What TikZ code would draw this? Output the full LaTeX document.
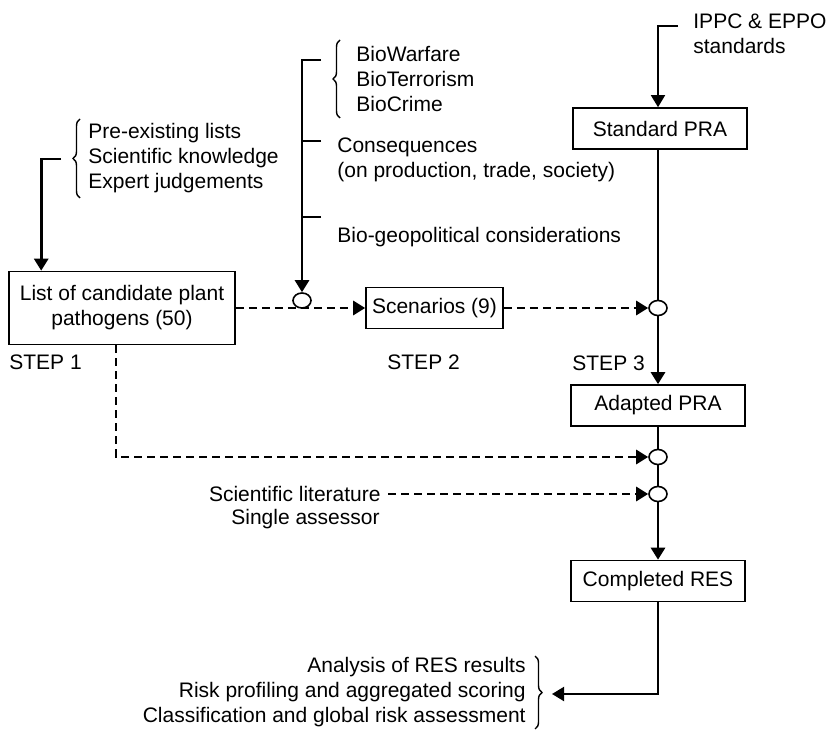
\documentclass[tikz,border=0pt]{standalone}
\usepackage{fontspec}
\setmainfont{Liberation Sans}
\usetikzlibrary{arrows.meta,positioning,decorations.pathreplacing,shapes.geometric}

\begin{document}
\begin{tikzpicture}[x=0.5pt,y=-0.5pt,
  every node/.style={font=\fontsize{10.5}{12.5}\selectfont},
  prabox/.style={draw,line width=0.8pt,minimum width=87pt,minimum height=20.5pt,inner sep=2pt},
  junc/.style={draw,ellipse,line width=0.8pt,fill=white,minimum width=9pt,minimum height=7.5pt,inner sep=0pt},
  solidarr/.style={line width=1.4pt,-{Triangle[length=6pt,width=7pt]}},
  dasharr/.style={line width=1.4pt,dash pattern=on 4pt off 2.5pt,-{Triangle[length=6pt,width=7pt]}},
  lbrace/.style={decorate,decoration={brace,amplitude=3.5pt},line width=0.7pt},
  txt/.style={inner sep=1pt,align=left}]
  \useasboundingbox (0,0) rectangle (829,731);
  % boxes and junctions
  \node[prabox,minimum width=113pt,minimum height=36.5pt,align=center] (list) at (122,308) {List of candidate plant\\pathogens (50)};
  \node[prabox,minimum width=68.5pt] (scen) at (434.5,308) {Scenarios (9)};
  \node[prabox] (std) at (660,128.5) {Standard PRA};
  \node[prabox] (adapt) at (658,405.5) {Adapted PRA};
  \node[prabox] (compl) at (658,581) {Completed RES};
  \node[junc] (j1) at (302,300.5) {};
  \node[junc] (j2) at (658,308) {};
  \node[junc] (j3) at (658,457) {};
  \node[junc] (j4) at (658,494) {};
  % text
  \node[txt,anchor=west] (known) at (86,158.5) {Pre-existing lists\\Scientific knowledge\\Expert judgements};
  \node[txt,anchor=west] (bio) at (354,79) {BioWarfare\\BioTerrorism\\BioCrime};
  \node[txt,anchor=west] (conseq) at (335,160) {Consequences\\(on production, trade, society)};
  \node[txt,anchor=west] (geo) at (335,237) {Bio-geopolitical considerations};
  \node[txt,anchor=west] (ippc) at (691,33.5) {IPPC \& EPPO\\standards};
  \node[anchor=west,inner sep=0pt] (step1) at (9,362) {STEP 1};
  \node[anchor=west,inner sep=0pt] (step2) at (387,362) {STEP 2};
  \node[anchor=west,inner sep=0pt] (step3) at (572,363) {STEP 3};
  \node[anchor=east,inner xsep=3.5pt,inner ysep=1pt] (lit) at (388,494) {Scientific literature};
  \node[anchor=east,inner sep=1pt] (assr) at (382,519) {Single assessor};
  \node[txt,align=right,anchor=east] (res) at (528,692) {Analysis of RES results\\Risk profiling and aggregated scoring\\Classification and global risk assessment};
  % braces
  \draw[lbrace] (80,198) -- (80,119);
  \draw[lbrace] (340,118) -- (340,40);
  \draw[lbrace] (535,656) -- (535,729);
  % free ends
  \coordinate (src1) at (61,159);
  \coordinate (t1) at (321,60);
  \coordinate (t2) at (321,141);
  \coordinate (t3) at (321,217);
  \coordinate (ippcin) at (678,26);
  \coordinate (lcorner) at (116,457);
  \coordinate (bout) at (552,694);
  % connectors
  \draw[solidarr] (src1) -| ([xshift=16.5pt]list.north west);
  \draw[solidarr] (t1) -- (t1 -| j1) -- (j1.north);
  \draw[line width=0.8pt] (t2) -- (t2 -| j1);
  \draw[line width=0.8pt] (t3) -- (t3 -| j1);
  \draw[dasharr] (list.east) -- (scen.west);
  \draw[dasharr] (scen.east) -- (j2.west);
  \draw[solidarr,line width=0.8pt] (ippcin) -| (std.north -| j2);
  \draw[line width=1.4pt] (std.south -| j2) -- (j2.north);
  \draw[solidarr] (j2.south) -- (adapt.north);
  \draw[line width=1.4pt] (adapt.south) -- (j3.north);
  \draw[dasharr] (list.south -| lcorner) -- (lcorner) -- (j3.west);
  \draw[line width=1.4pt] (j3.south) -- (j4.north);
  \draw[dasharr] (lit.east) -- (j4.west);
  \draw[solidarr] (j4.south) -- (compl.north);
  \draw[solidarr,line width=1pt] (compl.south) |- (bout);
\end{tikzpicture}
\end{document}
